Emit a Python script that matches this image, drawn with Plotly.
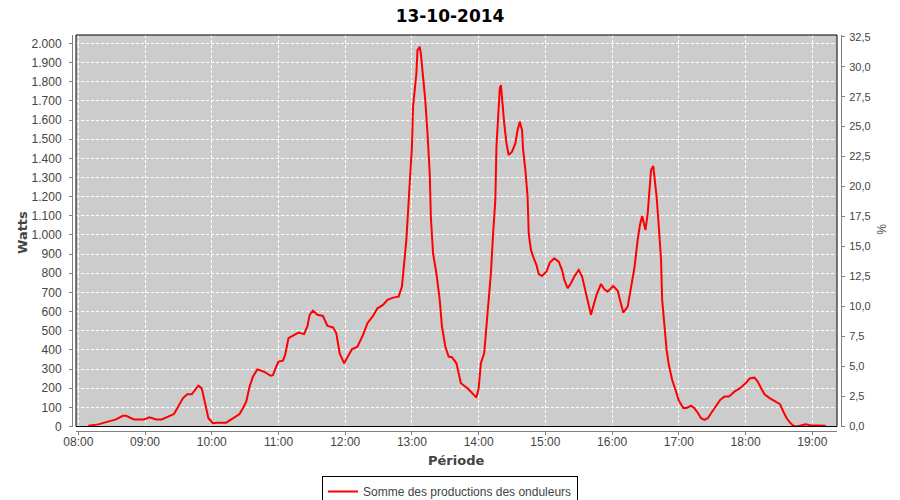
import plotly.graph_objects as go

DAY = "2014-10-13"
times = ["08:09","08:18","08:25","08:34","08:40","08:43","08:50","08:59","09:04","09:10",
         "09:15","09:20","09:26","09:29","09:34","09:38","09:42","09:48","09:51","09:54",
         "09:57","10:01","10:05","10:13","10:17","10:25","10:28","10:31","10:34","10:37",
         "10:41","10:47","10:53","10:55","10:58","11:00","11:04","11:06","11:09","11:14",
         "11:18","11:23","11:26","11:28","11:31","11:35","11:40","11:44","11:49","11:52",
         "11:55","11:59","12:02","12:06","12:11","12:16","12:20","12:25","12:29","12:34",
         "12:38","12:43","12:48","12:51","12:53","12:55","12:58","13:00","13:01","13:04",
         "13:05","13:07","13:08","13:10","13:12","13:14","13:16","13:17","13:19","13:22",
         "13:25","13:27","13:30","13:33","13:36","13:40","13:44","13:50","13:54","13:58",
         "14:00","14:02","14:05","14:07","14:08","14:11","14:13","14:15","14:16","14:18",
         "14:19","14:20","14:21","14:23","14:25","14:27","14:30","14:33","14:35","14:37",
         "14:39","14:40","14:42","14:44","14:45","14:47","14:49","14:52","14:54","14:57",
         "15:01","15:04","15:08","15:12","15:15","15:17","15:20","15:23","15:26","15:30",
         "15:33","15:36","15:39","15:41","15:43","15:46","15:50","15:53","15:56","16:01",
         "16:05","16:08","16:10","16:14","16:16","16:20","16:23","16:25","16:27","16:29",
         "16:30","16:32","16:34","16:35","16:37","16:38","16:40","16:42","16:44","16:45",
         "16:47","16:49","16:51","16:54","16:57","17:00","17:04","17:07","17:11","17:14",
         "17:17","17:20","17:23","17:26","17:29","17:33","17:37","17:41","17:45","17:50",
         "17:55","18:00","18:04","18:08","18:11","18:14","18:17","18:22","18:27","18:31",
         "18:34","18:37","18:40","18:43","18:46","18:49","18:54","18:58","19:06","19:12"]
watts = [4,11,23,37,56,56,37,37,48,37,
         37,51,65,95,147,168,168,213,199,121,
         43,17,20,20,34,65,95,130,208,260,
         298,286,265,268,312,339,344,374,461,478,
         490,482,522,583,605,583,577,525,518,487,
         383,330,365,403,417,478,539,577,617,635,
         661,673,678,730,852,974,1270,1461,1670,1843,
         1965,1983,1948,1843,1704,1530,1322,1096,904,800,
         661,522,417,365,362,330,226,200,174,151,
         200,330,383,522,626,800,1009,1183,1461,1704,
         1765,1782,1704,1583,1478,1417,1435,1478,1548,1591,
         1548,1444,1339,1200,1009,922,887,843,796,786,
         809,856,878,861,817,765,722,748,783,817,
         783,713,643,583,626,687,744,716,704,734,
         709,640,595,626,696,826,974,1052,1099,1043,
         1026,1113,1270,1339,1360,1304,1200,1043,869,661,
         522,400,322,243,191,135,97,97,109,95,
         72,43,34,43,69,103,138,156,156,182,
         200,226,252,255,234,200,168,147,130,117,
         77,43,20,4,0,4,11,6,4,4]

title = "13-10-2014"
series_name = "Somme des productions des onduleurs"
y_title = "Watts"
x_title = "Période"
y2_title = "%"

x = [f"{DAY} {t}" for t in times]

FONT = "Liberation Sans"
GRAY = "#808080"
TXT = "#444444"

fig = go.Figure()
fig.add_trace(go.Scatter(x=x, y=watts, mode="lines", name=series_name,
                         line=dict(color="#ff0000", width=2)))
fig.add_trace(go.Scatter(x=[x[0]], y=[0], yaxis="y2", mode="lines",
                         showlegend=False, hoverinfo="skip",
                         line=dict(color="rgba(0,0,0,0)")))

# page body has an 8px margin: work in figure coordinates = screen - 8
OFF = 8
W, H = 900 - OFF, 500 - OFF
left, right, top, bottom = 72 - OFF, 841 - OFF, 35 - OFF, 431 - OFF
pw, ph = right - left, bottom - top

fig.update_layout(
    width=W, height=H,
    margin=dict(l=left, r=W - right, t=top, b=H - bottom, pad=0),
    paper_bgcolor="white",
    plot_bgcolor="#cccccc",
    separators=",.",
    font=dict(family=FONT, size=12, color=TXT),
    title=dict(text="<b>" + title + "</b>", x=(450 - OFF) / W, xanchor="center",
               y=1 - 2 / H, yanchor="top", xref="container", yref="container",
               pad=dict(t=0, b=0, l=0, r=0),
               font=dict(family="DejaVu Sans", size=17, color="#000000")),
    showlegend=True,
    legend=dict(xref="container", yref="container", x=(450 - OFF) / W, xanchor="center",
                y=1 - (476 - OFF) / H, yanchor="top", orientation="h",
                bordercolor="#000000", borderwidth=1, bgcolor="white",
                font=dict(family=FONT, size=12, color=TXT),
                itemwidth=30, tracegroupgap=0),
    xaxis=dict(
        type="date",
        domain=[4 / pw, 1 - 4 / pw],
        range=[f"{DAY} 07:57:56", f"{DAY} 19:22:13"],
        dtick=3600000, tick0=f"{DAY} 08:00", tickformat="%H:%M",
        anchor="free", position=0,
        showline=True, linecolor=GRAY, linewidth=1,
        ticks="outside", ticklen=3, tickcolor=GRAY,
        ticklabelstandoff=-3,
        showgrid=True, gridcolor="white", griddash="3px,2px", gridwidth=1,
        zeroline=False,
        tickfont=dict(family=FONT, size=12, color=TXT),
    ),
    yaxis=dict(
        domain=[4.5 / ph, 1],
        range=[0, 2044], dtick=100, tickformat=",d",
        anchor="free", position=0,
        showline=True, linecolor=GRAY, linewidth=1,
        ticks="outside", ticklen=3, tickcolor=GRAY,
        ticklabelstandoff=5,
        showgrid=True, gridcolor="white", griddash="3px,2px", gridwidth=1,
        zeroline=False,
        tickfont=dict(family=FONT, size=12, color=TXT),
    ),
    yaxis2=dict(
        overlaying="y", side="right",
        range=[0, 32.64], dtick=2.5, tickformat=".1f",
        anchor="free", position=1,
        showline=True, linecolor=GRAY, linewidth=1,
        ticks="outside", ticklen=3, tickcolor=GRAY,
        ticklabelstandoff=2,
        showgrid=False, zeroline=False,
        tickfont=dict(family=FONT, size=11, color=TXT),
    ),
)

fig.add_shape(type="rect", xref="x domain", yref="y domain", x0=0, x1=1, y0=0, y1=1,
              line=dict(color="#000000", width=1), fillcolor="rgba(0,0,0,0)", layer="above")

fig.add_annotation(text="<b>" + y_title + "</b>", textangle=-90, xref="paper", yref="paper",
                   x=-50 / pw, y=(431 - 232) / ph, xanchor="center", yanchor="middle",
                   showarrow=False, font=dict(family="DejaVu Sans", size=13, color=TXT))
fig.add_annotation(text="<b>" + x_title + "</b>", xref="paper", yref="paper",
                   x=(456 - 72) / pw, y=-(460 - 431) / ph, xanchor="center", yanchor="middle",
                   showarrow=False, font=dict(family="DejaVu Sans", size=13, color=TXT))
fig.add_annotation(text=y2_title, textangle=90, xref="paper", yref="paper",
                   x=1 + (881 - 841) / pw, y=(431 - 229) / ph, xanchor="center", yanchor="middle",
                   showarrow=False, font=dict(family=FONT, size=12, color=TXT))

fig.write_html("out.html")
